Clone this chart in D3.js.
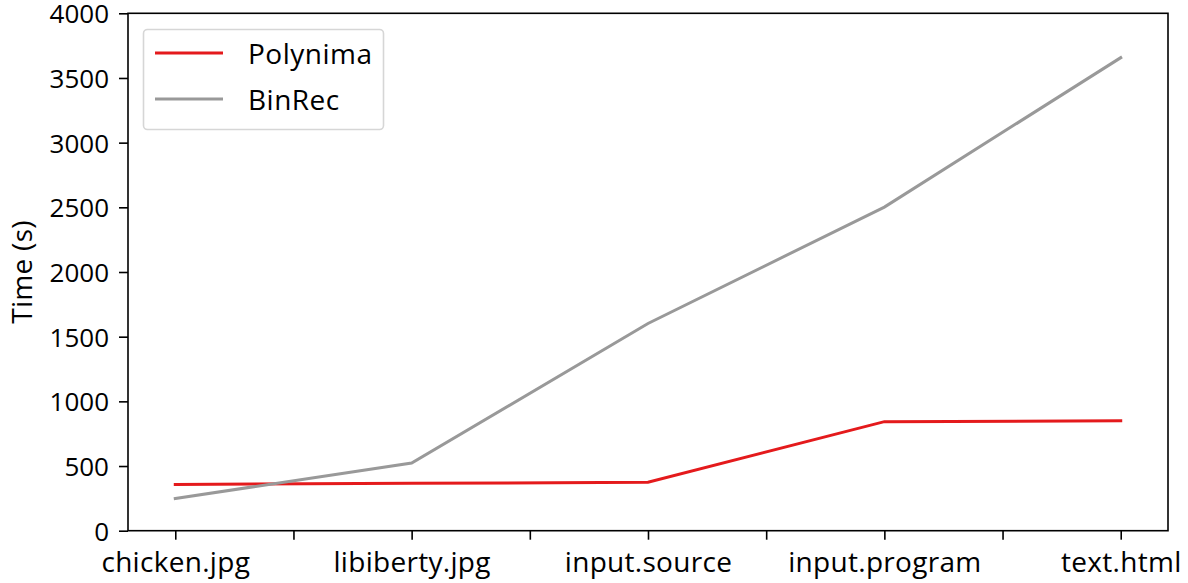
<!DOCTYPE html>
<html><head><meta charset="utf-8">
<script src="https://cdn.jsdelivr.net/npm/d3@7"></script>
<style>body{margin:0;background:#fff}svg{display:block}text{font-family:"Open Sans",sans-serif;fill:#000}</style>
</head><body>
<svg id="c" width="1188" height="583"></svg>
<script>
const categories = ["chicken.jpg","libiberty.jpg","input.source","input.program","text.html"];
const polynima = [358, 366, 374, 843, 850];
const binrec = [249, 523, 1602, 2502, 3657];
const yTicks = [0,500,1000,1500,2000,2500,3000,3500,4000];
const seriesNames = ["Polynima","BinRec"];
const seriesColors = ["#e41a1c","#999999"];

const svg = d3.select("#c");
const L=128, R=1168, T=13.3, B=530.7;
const x = d3.scaleLinear().domain([-0.2,4.2]).range([L,R]);
const y = d3.scaleLinear().domain([0,4000]).range([B,T]);
const FS = 26, FL = 28, LS = "0.3px";

// lines
const line = d3.line().x((d,i)=>x(i)).y(d=>y(d));
[polynima, binrec].forEach((s,k)=>{
  svg.append("path").datum(s).attr("d",line).attr("fill","none")
    .attr("stroke",seriesColors[k]).attr("stroke-width",3).attr("stroke-linecap","square");
});

// axes
const yAxis = d3.axisLeft(y).tickValues(yTicks).tickSize(9).tickPadding(10).tickFormat(d3.format("d"));
const gy = svg.append("g").attr("transform",`translate(${L},0)`).call(yAxis);
const xAxis = d3.axisBottom(x).tickValues(d3.range(categories.length)).tickSize(9).tickPadding(10).tickFormat(i=>categories[i]);
const gx = svg.append("g").attr("transform",`translate(0,${B})`).call(xAxis);
const minor = d3.axisBottom(x).tickValues(d3.range(categories.length-1).map(i=>i+0.5)).tickSize(9).tickFormat("");
const gm = svg.append("g").attr("transform",`translate(0,${B})`).call(minor);
[gx,gy,gm].forEach(g=>{
  g.select(".domain").remove();
  g.selectAll(".tick line").attr("stroke","#000").attr("stroke-width",1.6);
  g.selectAll(".tick text").attr("font-family",'"Open Sans",sans-serif').attr("fill","#000");
});
gy.selectAll(".tick text").attr("font-size",FS).attr("dy","0.36em");
gx.selectAll(".tick text").attr("font-size",FL).attr("letter-spacing",LS).attr("y",41).attr("dy",0);

// frame
svg.append("rect").attr("x",L).attr("y",T).attr("width",R-L).attr("height",B-T)
  .attr("fill","none").attr("stroke","#000").attr("stroke-width",1.6);

// y label
svg.append("text").attr("transform",`translate(32,${(T+B)/2}) rotate(-90)`)
  .attr("text-anchor","middle").attr("font-size",FL).attr("letter-spacing",LS).text("Time (s)");

// legend
const lg = svg.append("g");
lg.append("rect").attr("x",143.5).attr("y",29.5).attr("width",240).attr("height",100).attr("rx",4)
  .attr("fill","#fff").attr("fill-opacity",0.8).attr("stroke","#d6d6d6").attr("stroke-width",1.6);
seriesNames.forEach((n,k)=>{
  const yy = 53 + k*46;
  lg.append("line").attr("x1",155).attr("x2",223).attr("y1",yy).attr("y2",yy)
    .attr("stroke",seriesColors[k]).attr("stroke-width",3);
  lg.append("text").attr("x",248).attr("y",yy+11).attr("font-size",FL).attr("letter-spacing","0.5px").text(n);
});
</script>
</body></html>
